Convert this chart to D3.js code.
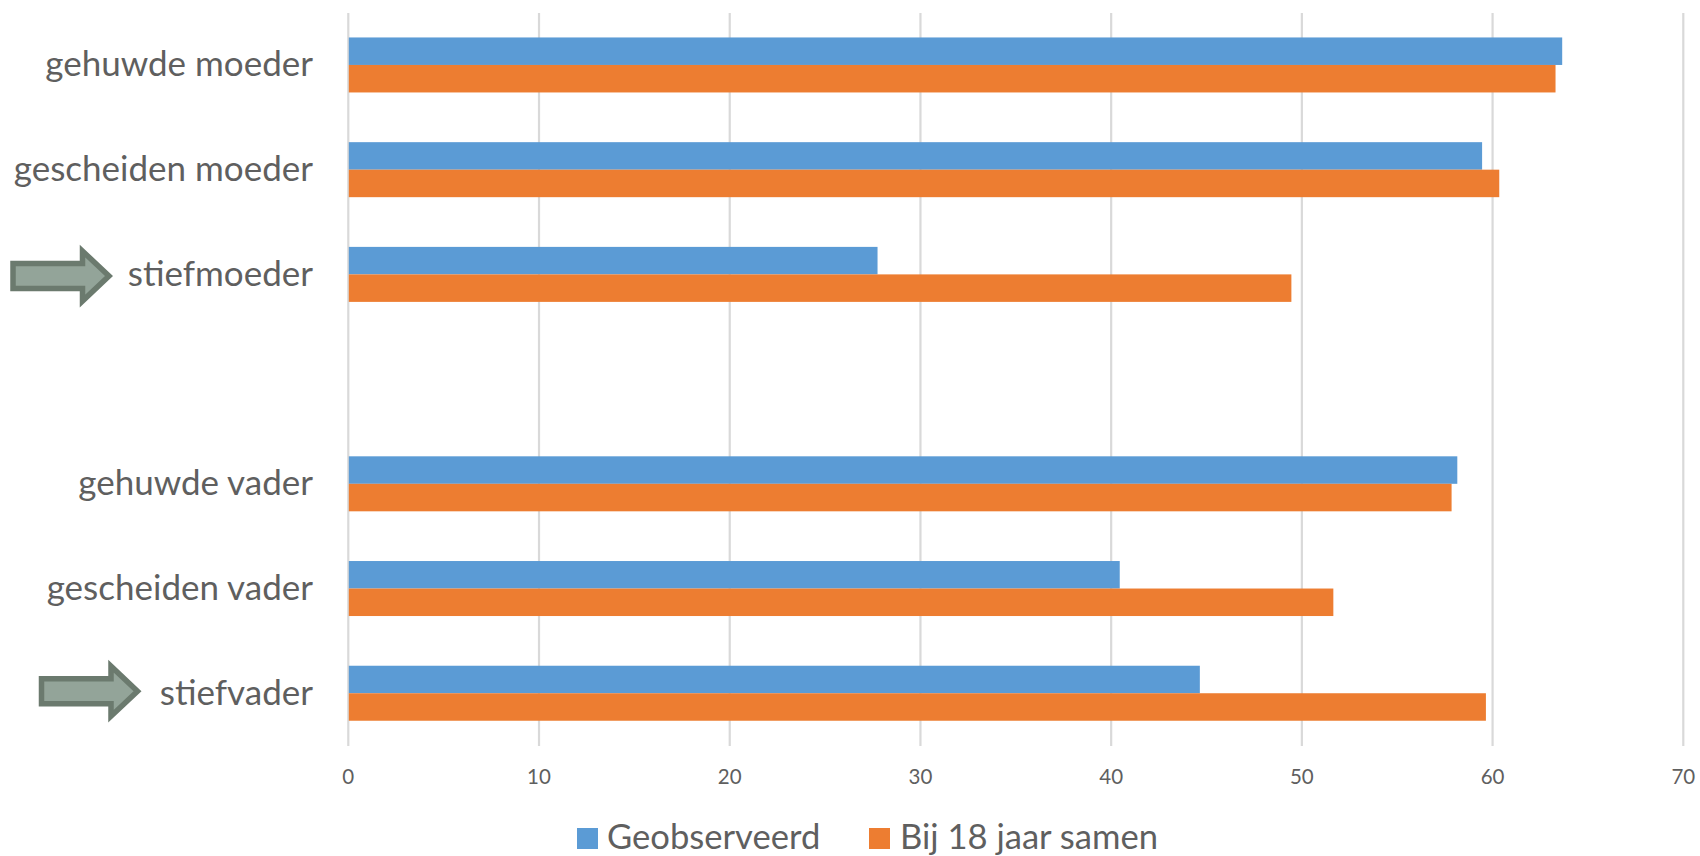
<!DOCTYPE html>
<html><head><meta charset="utf-8">
<script src="https://cdn.jsdelivr.net/npm/d3@7"></script>
<style>html,body{margin:0;background:#fff}svg{display:block}text{font-family:Lato,"Open Sans",sans-serif;fill:#5f5f5f}</style>
</head><body><svg id="c" width="1700" height="856"></svg>
<script>
const categories = ["gehuwde moeder","gescheiden moeder","stiefmoeder","","gehuwde vader","gescheiden vader","stiefvader"];
const geobserveerd = [63.65,59.45,27.75,null,58.15,40.45,44.65];
const bij18 = [63.3,60.35,49.45,null,57.85,51.65,59.65];
const xTicks = [0,10,20,30,40,50,60,70];
const seriesNames = ["Geobserveerd","Bij 18 jaar samen"];
const seriesColors = ["#5b9bd5","#ed7d31"];
const arrowCats = ["stiefmoeder","stiefvader"];

const svg = d3.select("#c");
const x = d3.scaleLinear().domain([0,70]).range([348.3,1683.3]);
const y = d3.scaleBand().domain(categories.map((c,i)=>i)).range([13,746]);
const inner = d3.scaleBand().domain([0,1]).range([0,55]);
const barPad = (y.bandwidth()-55)/2;

svg.append("g").selectAll("line").data(xTicks).join("line")
  .attr("x1",d=>x(d)).attr("x2",d=>x(d)).attr("y1",13).attr("y2",746)
  .attr("stroke","#d9d9d9").attr("stroke-width",2.2);

[geobserveerd,bij18].forEach((vals,s)=>{
  svg.append("g").selectAll("rect").data(vals.map((v,i)=>({v,i})).filter(d=>d.v!=null)).join("rect")
    .attr("x",x(0)+0.5).attr("y",d=>y(d.i)+barPad+inner(s)-0.4)
    .attr("width",d=>x(d.v)-x(0)-0.5).attr("height",inner.bandwidth())
    .attr("fill",seriesColors[s]);
});

svg.append("g").selectAll("text").data(categories).join("text")
  .attr("x",313).attr("y",(d,i)=>y(i)+y.bandwidth()/2-1).attr("dy","0.34em")
  .attr("text-anchor","end").attr("font-size",35).text(d=>d);

svg.append("g").selectAll("text").data(xTicks).join("text")
  .attr("x",d=>x(d)).attr("y",784).attr("text-anchor","middle").attr("font-size",20.5).text(d=>d);

const arrow = d3.line();
const arrowRight = {"stiefmoeder":112.5,"stiefvader":141};
arrowCats.forEach(c=>{
  const cy = y(categories.indexOf(c))+y.bandwidth()/2 + (c==="stiefmoeder"?1.3:-2.4);
  const r = arrowRight[c], l=r-102;
  const pts=[[l+2.5,cy-12.5],[r-30,cy-12.5],[r-30,cy-25],[r-3.5,cy],[r-30,cy+25],[r-30,cy+12.5],[l+2.5,cy+12.5]];
  svg.append("path").attr("d",arrow(pts)+"Z").attr("fill","#93a499").attr("stroke","#6b7a6e").attr("stroke-width",5.5);
});

const legX=[577,869], legT=[607,900];
seriesNames.forEach((n,i)=>{
  svg.append("rect").attr("x",legX[i]).attr("y",828).attr("width",21).attr("height",21).attr("fill",seriesColors[i]);
  svg.append("text").attr("x",legT[i]).attr("y",849).attr("font-size",34.6).text(n);
});
</script></body></html>
